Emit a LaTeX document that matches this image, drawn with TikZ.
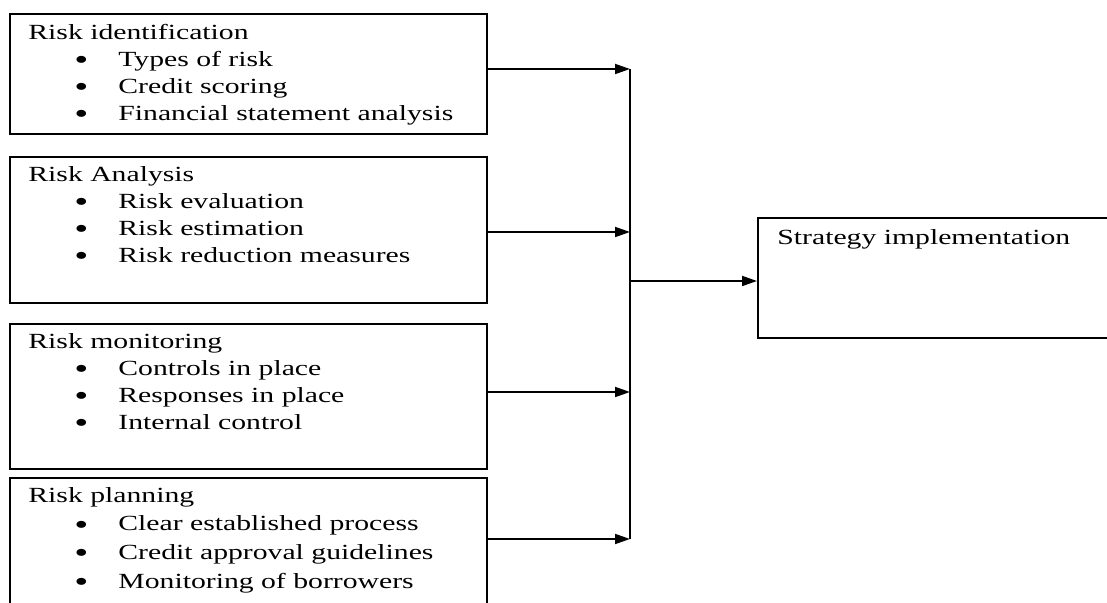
\documentclass[tikz,border=0pt]{standalone}
\usepackage{fontspec}
\setmainfont[FakeStretch=1.375]{Liberation Serif}
\usepackage{tikz}
\usetikzlibrary{arrows.meta, positioning, calc}

\newcommand{\bitem}{\hspace*{23pt}\makebox[22pt][l]{\raisebox{-0.14em}[0.5em][0pt]{\scalebox{1.35}{\textbullet}}}}

\begin{document}
\begin{tikzpicture}[
        x=0.5pt, y=-0.5pt,
        riskbox/.style={rectangle, draw, line width=0.9pt, anchor=north west, inner sep=0pt, minimum width=238.5pt},
        boxtext/.style={anchor=north west, inner sep=0pt, align=left, font=\fontsize{10.8}{13.5}\selectfont},
        arr/.style={-{Triangle[length=7.5pt, width=5pt]}, line width=0.9pt}
    ]
        \useasboundingbox (0,0) rectangle (1107,603);
        \clip (0,0) rectangle (1107,603);

        \node[riskbox, minimum height=60pt] (ident) at (9,13) {};
        \node[riskbox, minimum height=73pt] (analysis) at (9,156) {};
        \node[riskbox, minimum height=72.5pt] (monitor) at (9,323) {};
        \node[riskbox, minimum height=82pt] (planning) at (9,477) {};
        \node[riskbox, minimum width=187pt, minimum height=60pt] (strategy) at (757,217) {};

        \node[boxtext] (identtxt) at ([shift={(19,11)}]ident.north west)
            {Risk identification\\ \bitem Types of risk\\ \bitem Credit scoring\\ \bitem Financial statement analysis};
        \node[boxtext] (analysistxt) at ([shift={(19,10)}]analysis.north west)
            {Risk Analysis\\ \bitem Risk evaluation\\ \bitem Risk estimation\\ \bitem Risk reduction measures};
        \node[boxtext] (monitortxt) at ([shift={(19,10)}]monitor.north west)
            {Risk monitoring\\ \bitem Controls in place\\ \bitem Responses in place\\ \bitem Internal control};
        \node[boxtext, font=\fontsize{10.8}{14.3}\selectfont] (planningtxt) at ([shift={(19,10)}]planning.north west)
            {Risk planning\\ \bitem Clear established process\\ \bitem Credit approval guidelines\\ \bitem Monitoring of borrowers};
        \node[boxtext] (strategytxt) at ([shift={(20,12)}]strategy.north west) {Strategy implementation};

        % junction points on the collecting line
        \coordinate (in1) at (630,69);
        \coordinate (in2) at (630,232);
        \coordinate (in3) at (630,392);
        \coordinate (in4) at (630,539);
        \coordinate (bus) at (630,281);

        \draw[arr] (ident.east |- in1) -- (in1);
        \draw[arr] (analysis.east |- in2) -- (in2);
        \draw[arr] (monitor.east |- in3) -- (in3);
        \draw[arr] (planning.east |- in4) -- (in4);
        \draw[line width=0.9pt] (in1) -- (in4);
        \draw[arr] (bus) -- (strategy.west |- bus);
    \end{tikzpicture}
\end{document}
